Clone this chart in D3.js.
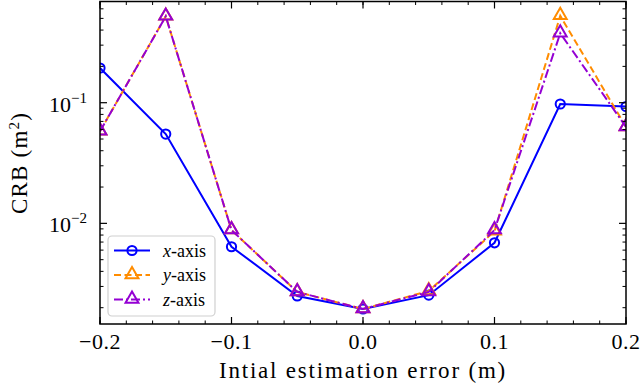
<!DOCTYPE html>
<html>
<head>
<meta charset="utf-8">
<script src="https://cdn.jsdelivr.net/npm/d3@7"></script>
<style>
  body { margin: 0; background: #fff; }
  text { font-family: "Liberation Serif", "DejaVu Serif", serif; fill: #000; }
</style>
</head>
<body>
<div id="chart"></div>
<script>
// error values on the x axis
var errors = [-0.2, -0.15, -0.1, -0.05, 0.0, 0.05, 0.1, 0.15, 0.2];

// CRB per axis (m^2)
var crbX = [0.194, 0.055, 0.0064, 0.0025, 0.00195, 0.00254, 0.0069, 0.0976, 0.093];
var crbY = [0.058, 0.52, 0.0088, 0.0027, 0.00195, 0.00275, 0.0086, 0.525, 0.063];
var crbZ = [0.058, 0.52, 0.0088, 0.0027, 0.00195, 0.0027, 0.0088, 0.376, 0.063];

var seriesNames = ["x", "y", "z"];
var xTicks = [-0.2, -0.1, 0.0, 0.1, 0.2];
var yTicks = [0.01, 0.1];

var W = 640, H = 391;
var pL = 100, pR = 626, pT = 1.5, pB = 324;

var svg = d3.select('#chart').append('svg')
  .attr('width', W).attr('height', H);

var x = d3.scaleLinear().domain([-0.2, 0.2]).range([pL, pR]);
var y = d3.scaleLog().domain([0.001465, 0.69]).range([pB, pT]);

var series = [
  { name: seriesNames[0], values: crbX, color: '#0000ff', dash: null, marker: 'circle' },
  { name: seriesNames[1], values: crbY, color: '#ff8c00', dash: '7,3.5', marker: 'tri' },
  { name: seriesNames[2], values: crbZ, color: '#9400d3', dash: '9,3,2,3', marker: 'tri' }
];

svg.append('clipPath').attr('id', 'clip')
  .append('rect').attr('x', pL).attr('y', pT)
  .attr('width', pR - pL).attr('height', pB - pT);

var plot = svg.append('g').attr('clip-path', 'url(#clip)');

var line = d3.line().x(d => x(d[0])).y(d => y(d[1]));
var triPath = d3.symbol().type(d3.symbolTriangle).size(72);

function drawMarker(g, s, px, py) {
  if (s.marker === 'circle') {
    g.append('circle').attr('cx', px).attr('cy', py).attr('r', 4.6)
      .attr('fill', 'none').attr('stroke', s.color).attr('stroke-width', 2);
  } else {
    g.append('path').attr('d', triPath())
      .attr('transform', 'translate(' + px + ',' + (py - 0.5) + ')')
      .attr('fill', 'none').attr('stroke', s.color).attr('stroke-width', 2);
  }
}

series.forEach(function (s) {
  var pts = errors.map((e, i) => [e, s.values[i]]);
  plot.append('path').datum(pts)
    .attr('d', line)
    .attr('fill', 'none')
    .attr('stroke', s.color)
    .attr('stroke-width', 2)
    .attr('stroke-dasharray', s.dash);
  pts.forEach(p => drawMarker(plot, s, x(p[0]), y(p[1])));
});

// axes (ticks pointing inward, on all four sides)
var ax = svg.append('g');
var xMinor = d3.range(-0.2, 0.2001, 0.02);
var yMinor = [];
[0.001, 0.01, 0.1].forEach(function (dec) {
  for (var k = 2; k <= 9; k++) {
    var v = dec * k;
    if (v > y.domain()[0] && v < y.domain()[1]) yMinor.push(v);
  }
});

xMinor.forEach(function (v) {
  ax.append('line').attr('x1', x(v)).attr('x2', x(v)).attr('y1', pB).attr('y2', pB - 3.5)
    .attr('stroke', '#000').attr('stroke-width', 1);
  ax.append('line').attr('x1', x(v)).attr('x2', x(v)).attr('y1', pT).attr('y2', pT + 3.5)
    .attr('stroke', '#000').attr('stroke-width', 1);
});
xTicks.forEach(function (v) {
  ax.append('line').attr('x1', x(v)).attr('x2', x(v)).attr('y1', pB).attr('y2', pB - 7)
    .attr('stroke', '#000').attr('stroke-width', 1.2);
  ax.append('line').attr('x1', x(v)).attr('x2', x(v)).attr('y1', pT).attr('y2', pT + 7)
    .attr('stroke', '#000').attr('stroke-width', 1.2);
  ax.append('text').attr('x', x(v)).attr('y', 349)
    .attr('text-anchor', 'middle').style('font-size', '22px')
    .style('letter-spacing', '0.5px')
    .text(d3.format('.1f')(v).replace('-', '\u2212'));
});
yMinor.forEach(function (v) {
  ax.append('line').attr('x1', pL).attr('x2', pL + 3.5).attr('y1', y(v)).attr('y2', y(v))
    .attr('stroke', '#000').attr('stroke-width', 1);
  ax.append('line').attr('x1', pR).attr('x2', pR - 3.5).attr('y1', y(v)).attr('y2', y(v))
    .attr('stroke', '#000').attr('stroke-width', 1);
});
yTicks.forEach(function (v) {
  ax.append('line').attr('x1', pL).attr('x2', pL + 7).attr('y1', y(v)).attr('y2', y(v))
    .attr('stroke', '#000').attr('stroke-width', 1.2);
  ax.append('line').attr('x1', pR).attr('x2', pR - 7).attr('y1', y(v)).attr('y2', y(v))
    .attr('stroke', '#000').attr('stroke-width', 1.2);
  var t = ax.append('text').attr('x', 87).attr('y', y(v) + 9)
    .attr('text-anchor', 'end').style('font-size', '22px');
  t.append('tspan').text('10');
  t.append('tspan').attr('dy', -9).style('font-size', '15px')
    .text('\u2212' + Math.round(-Math.log10(v)));
});

ax.append('rect').attr('x', pL).attr('y', pT)
  .attr('width', pR - pL).attr('height', pB - pT)
  .attr('fill', 'none').attr('stroke', '#000').attr('stroke-width', 1.5);

// axis labels
svg.append('text').attr('x', (pL + pR) / 2).attr('y', 378)
  .attr('text-anchor', 'middle').style('font-size', '23px')
  .style('letter-spacing', '1.8px')
  .text('Intial estimation error (m)');

var yl = svg.append('text')
  .attr('transform', 'translate(27,' + 163 + ') rotate(-90)')
  .attr('text-anchor', 'middle').style('font-size', '23px')
  .style('letter-spacing', '1.2px');
yl.append('tspan').text('CRB (m');
yl.append('tspan').attr('dy', -8).style('font-size', '15px').text('2');
yl.append('tspan').attr('dy', 8).text(')');

// legend
var lg = svg.append('g');
lg.append('rect').attr('x', 108).attr('y', 236).attr('width', 107).attr('height', 80)
  .attr('rx', 4).attr('fill', '#fff').attr('fill-opacity', 0.85)
  .attr('stroke', '#d0d0d0').attr('stroke-width', 1.2);
series.forEach(function (s, i) {
  var ly = 250.5 + i * 24.5;
  lg.append('line').attr('x1', 114).attr('x2', 150).attr('y1', ly).attr('y2', ly)
    .attr('stroke', s.color).attr('stroke-width', 2).attr('stroke-dasharray', s.dash);
  drawMarker(lg, s, 132, ly);
  var t = lg.append('text').attr('x', 163).attr('y', ly + 6).style('font-size', '18px');
  t.append('tspan').style('font-style', 'italic').text(s.name);
  t.append('tspan').text('-axis');
});
</script>
</body>
</html>
